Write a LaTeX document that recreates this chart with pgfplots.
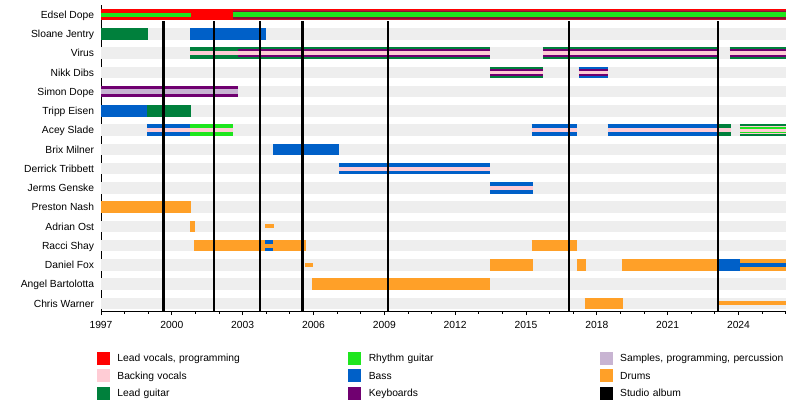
\documentclass[border=0pt]{standalone}
\usepackage{pgfplots}
\pgfplotsset{compat=1.18}
\usepackage{fontspec}
\setmainfont{Liberation Sans}
\definecolor{cleadvoc}{RGB}{255,0,0}
\definecolor{cbackvoc}{RGB}{255,204,213}
\definecolor{cleadg}{RGB}{0,128,60}
\definecolor{crhythm}{RGB}{30,230,30}
\definecolor{cbass}{RGB}{0,96,200}
\definecolor{ckeys}{RGB}{112,0,112}
\definecolor{csamp}{RGB}{200,180,210}
\definecolor{cdrums}{RGB}{255,160,40}
\definecolor{cband}{RGB}{238,238,238}
\definecolor{cedA}{RGB}{200,16,50}
\definecolor{cedB}{RGB}{140,16,52}
\newcommand{\seg}[5]{\addplot[draw=#1, line width=#2, line cap=butt, forget plot] coordinates {(#3,-#5) (#4,-#5)};}
\newcommand{\album}[1]{\addplot[draw=black, line width=2.5pt, line cap=butt, forget plot] coordinates {(#1,-0.33) (#1,-15.39)};}
\def\WA{11.5pt}
\def\WB{7.5pt}
\def\WC{3.8pt}
\newcommand{\lfont}{\fontsize{10.3}{12}\selectfont}
\pgfplotstableread[col sep=comma]{
x,y,label
1997,0,Edsel Dope
1997,-1,Sloane Jentry
1997,-2,Virus
1997,-3,Nikk Dibs
1997,-4,Simon Dope
1997,-5,Tripp Eisen
1997,-6,Acey Slade
1997,-7,Brix Milner
1997,-8,Derrick Tribbett
1997,-9,Jerms Genske
1997,-10,Preston Nash
1997,-11,Adrian Ost
1997,-12,Racci Shay
1997,-13,Daniel Fox
1997,-14,Angel Bartolotta
1997,-15,Chris Warner
}\members
\begin{document}
\begin{tikzpicture}
\useasboundingbox (0,0) rectangle (800pt,408pt);
\begin{axis}[
  at={(101pt,97pt)}, anchor=south west,
  scale only axis, width=684.7pt, height=305.9pt,
  xmin=1997, xmax=2026, ymin=-15.39, ymax=0.5,
  clip=false,
  axis x line*=bottom, axis y line*=left,
  axis line style={black, line width=0.9pt},
  xtick={1997,2000,2003,2006,2009,2012,2015,2018,2021,2024},
  xticklabels={1997,2000,2003,2006,2009,2012,2015,2018,2021,2024},
  minor xtick={1997,...,2026},
  tick align=outside,
  major tick length=4pt, minor tick length=2.5pt,
  xtick style={black, line width=0.8pt},
  ytick=\empty,
  x tick label style={font=\lfont, anchor=base, inner sep=0pt, yshift=-13.2pt},
  legend columns=3,
  legend cell align=left,
  legend style={at={(axis description cs:-0.00584,-0.134)}, anchor=north west,
    draw=none, fill=none, inner sep=0pt, outer sep=0pt, row sep=5pt, font=\lfont,
    nodes={inner sep=0pt, text width=231pt, text height=7.4pt, text depth=0pt, align=left},
    /tikz/every odd column/.append style={column sep=8pt}},
]
% background bands
\pgfplotsinvokeforeach{0,...,15}{\addplot[draw=cband, line width=\WA, line cap=butt, forget plot] coordinates {(1997,-#1) (2026,-#1)};}
% member names
\addplot[draw=none, mark=none, forget plot, nodes near coords, point meta=explicit symbolic,
  nodes near coords style={anchor=east, inner sep=0pt, xshift=-6.7pt, font=\lfont, text height=7.4pt, text depth=0pt, text=black}]
  table[x=x, y=y, meta=label] {\members};
% Edsel Dope
\seg{cleadvoc}{\WA}{1997}{2026}{0}
\seg{cedA}{10pt}{2002.57}{2026}{0}
\seg{cedB}{8pt}{2002.57}{2026}{0}
\seg{crhythm}{3.8pt}{1997}{2000.82}{0}
\seg{crhythm}{4.5pt}{2002.57}{2026}{0}
% Sloane Jentry
\seg{cleadg}{\WA}{1997}{1998.98}{1}
\seg{cbass}{\WA}{2000.78}{2003.98}{1}
% Virus
\seg{cleadg}{\WA}{2000.78}{2013.48}{2}
\seg{ckeys}{\WB}{2002.8}{2013.48}{2}
\seg{cbackvoc}{\WC}{2000.78}{2013.48}{2}
\seg{cleadg}{\WA}{2015.72}{2023.15}{2}
\seg{ckeys}{\WB}{2015.72}{2023.15}{2}
\seg{cbackvoc}{\WC}{2015.72}{2023.15}{2}
\seg{cleadg}{\WA}{2023.63}{2026}{2}
\seg{ckeys}{\WB}{2023.63}{2026}{2}
\seg{cbackvoc}{\WC}{2023.63}{2026}{2}
% Nikk Dibs
\seg{cleadg}{\WA}{2013.48}{2015.72}{3}
\seg{ckeys}{\WB}{2013.48}{2015.72}{3}
\seg{cbackvoc}{\WC}{2013.48}{2015.72}{3}
\seg{cbass}{\WA}{2017.23}{2018.49}{3}
\seg{ckeys}{\WB}{2017.23}{2018.49}{3}
\seg{cbackvoc}{\WC}{2017.23}{2018.49}{3}
% Simon Dope
\seg{ckeys}{\WA}{1997}{2002.8}{4}
\seg{csamp}{5pt}{1997}{2002.8}{4}
% Tripp Eisen
\seg{cbass}{\WA}{1997}{1998.94}{5}
\seg{cleadg}{\WA}{1998.94}{2000.82}{5}
% Acey Slade
\seg{cbass}{\WA}{1998.94}{2000.78}{6}
\seg{cbackvoc}{\WC}{1998.94}{2000.78}{6}
\seg{crhythm}{\WA}{2000.78}{2002.58}{6}
\seg{cbackvoc}{\WC}{2000.78}{2002.58}{6}
\seg{cbass}{\WA}{2015.24}{2017.17}{6}
\seg{cbackvoc}{\WC}{2015.24}{2017.17}{6}
\seg{cbass}{\WA}{2018.46}{2023.15}{6}
\seg{cbackvoc}{\WC}{2018.46}{2023.15}{6}
\seg{cleadg}{\WA}{2023.15}{2023.68}{6}
\seg{cbackvoc}{\WC}{2023.15}{2023.68}{6}
\seg{cleadg}{\WA}{2024.06}{2026}{6}
\seg{cbackvoc}{\WB}{2024.06}{2026}{6}
\seg{crhythm}{5.5pt}{2024.06}{2026}{6}
\seg{cbackvoc}{3pt}{2024.06}{2026}{6}
% Brix Milner
\seg{cbass}{\WA}{2004.29}{2007.09}{7}
% Derrick Tribbett
\seg{cbass}{\WA}{2007.09}{2013.48}{8}
\seg{cbackvoc}{\WC}{2007.09}{2013.48}{8}
% Jerms Genske
\seg{cbass}{\WA}{2013.48}{2015.28}{9}
\seg{cbackvoc}{\WC}{2013.48}{2015.28}{9}
% Preston Nash
\seg{cdrums}{\WA}{1997}{2000.82}{10}
% Adrian Ost
\seg{cdrums}{\WA}{2000.77}{2000.99}{11}
\seg{cdrums}{4pt}{2003.95}{2004.34}{11}
% Racci Shay
\seg{cdrums}{\WA}{2000.94}{2005.69}{12}
\seg{cbass}{\WA}{2003.95}{2004.29}{12}
\seg{cdrums}{\WC}{2003.95}{2004.29}{12}
\seg{cdrums}{\WA}{2015.24}{2017.17}{12}
% Daniel Fox
\seg{cdrums}{4.5pt}{2005.65}{2005.98}{13}
\seg{cdrums}{\WA}{2013.48}{2015.28}{13}
\seg{cdrums}{\WA}{2017.17}{2017.53}{13}
\seg{cdrums}{\WA}{2019.05}{2023.15}{13}
\seg{cbass}{\WA}{2023.15}{2024.06}{13}
\seg{cdrums}{\WA}{2024.06}{2026}{13}
\seg{cbass}{\WC}{2024.06}{2026}{13}
% Angel Bartolotta
\seg{cdrums}{\WA}{2005.95}{2013.48}{14}
% Chris Warner
\seg{cdrums}{\WA}{2017.48}{2019.1}{15}
\seg{cdrums}{4pt}{2023.15}{2026}{15}
% Studio albums
\album{1999.64}
\album{2001.79}
\album{2003.74}
\album{2005.54}
\album{2009.15}
\album{2016.82}
\album{2023.14}
% legend (row-wise order for 3 columns)
\addlegendimage{legend image code/.code={\fill[cleadvoc] (0pt,-6pt) rectangle (12pt,6pt);}}
\addlegendentry{Lead vocals, programming}
\addlegendimage{legend image code/.code={\fill[crhythm] (0pt,-6pt) rectangle (12pt,6pt);}}
\addlegendentry{Rhythm guitar}
\addlegendimage{legend image code/.code={\fill[csamp] (0pt,-6pt) rectangle (12pt,6pt);}}
\addlegendentry{Samples, programming, percussion}
\addlegendimage{legend image code/.code={\fill[cbackvoc] (0pt,-6pt) rectangle (12pt,6pt);}}
\addlegendentry{Backing vocals}
\addlegendimage{legend image code/.code={\fill[cbass] (0pt,-6pt) rectangle (12pt,6pt);}}
\addlegendentry{Bass}
\addlegendimage{legend image code/.code={\fill[cdrums] (0pt,-6pt) rectangle (12pt,6pt);}}
\addlegendentry{Drums}
\addlegendimage{legend image code/.code={\fill[cleadg] (0pt,-6pt) rectangle (12pt,6pt);}}
\addlegendentry{Lead guitar}
\addlegendimage{legend image code/.code={\fill[ckeys] (0pt,-6pt) rectangle (12pt,6pt);}}
\addlegendentry{Keyboards}
\addlegendimage{legend image code/.code={\fill[black] (0pt,-6pt) rectangle (12pt,6pt);}}
\addlegendentry{Studio album}
\end{axis}
\end{tikzpicture}
\end{document}
